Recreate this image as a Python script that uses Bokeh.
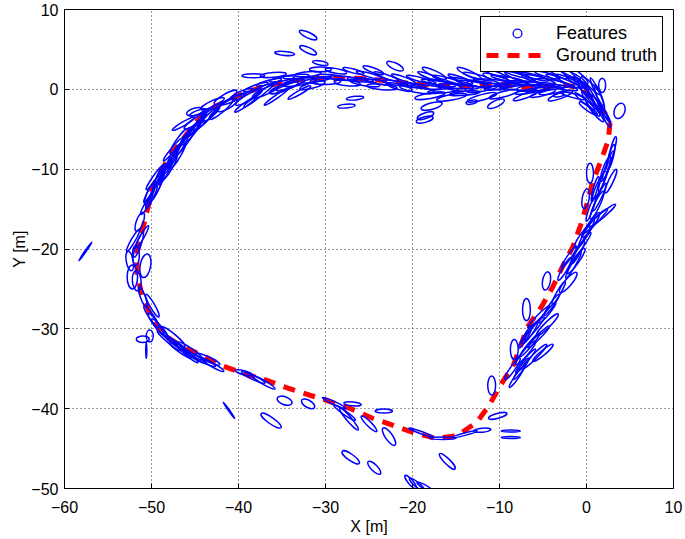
import numpy as np
from bokeh.plotting import figure
from bokeh.models import Legend, LegendItem, Range1d, ColumnDataSource, FixedTicker
from bokeh.embed import file_html
from bokeh.resources import INLINE

# ---- axes / ticks ----
x_ticks = [-60, -50, -40, -30, -20, -10, 0, 10]
x_tick_labels = ["\u221260", "\u221250", "\u221240", "\u221230", "\u221220", "\u221210", "0", "10"]
y_ticks = [-50, -40, -30, -20, -10, 0, 10]
y_tick_labels = ["\u221250", "\u221240", "\u221230", "\u221220", "\u221210", "0", "10"]

# ---- ground truth trajectory ----
gt_x = [2.7, 2.5, 1.6, 0.65, 0.07, -0.7, -1.6, -2.8, -3.9, -5.1, -6.8, -8.35, -9.9, -11.2, -12.6,
        -14.9, -17.4, -19.85, -22.2, -24.6, -27.1, -29.8, -32.1, -34.4, -36.9, -39.4, -41.7, -44.0,
        -46.7, -48.8, -50.1, -51.1, -51.65, -51.65, -51.1, -50.5, -49.8, -48.8, -47.5, -46.3, -44.8,
        -42.8, -40.3, -37.3, -34.3, -31.3, -26.3, -22.2, -19.2, -14.6, -9.6, -6.1, -2.6, -0.6, 1.0,
        2.2, 2.7]
gt_y = [-4.2, -6.4, -9.1, -11.8, -14.3, -17.1, -19.8, -22.3, -24.8, -27.1, -29.8, -34.4, -37.1,
        -39.6, -41.7, -43.4, -43.7, -43.0, -42.1, -41.2, -40.0, -39.0, -38.2, -37.4, -36.4, -35.6,
        -34.7, -33.4, -32.1, -30.6, -28.3, -25.8, -23.1, -20.4, -17.9, -15.2, -12.1, -10.0, -7.8,
        -6.1, -4.0, -2.2, -0.9, 0.3, 1.0, 1.4, 1.4, 1.0, 0.6, 0.3, 0.6, 0.1, 0.6, 0.1, -1.4, -3.1, -4.2]

# ---- features (uncertainty ellipses): centre, major/minor size, orientation (deg) ----
feat_x = [
    # top band, left part
    -40.5, -39.5, -39.2, -38.3, -38.0, -37.6, -36.5, -35.6, -35.0, -34.0, -33.4, -33.0, -32.0, -31.0, -30.6, -29.5, -41.3, -45.0, -43.3,
    # top band, middle
    -28.8, -28.0, -26.8, -26.0, -25.0, -24.0, -23.0, -22.0, -21.0, -20.0,
    # isolated, top
    -32.0, -32.0, -34.7, -30.6, -22.0, -26.6, -27.6, -17.8, -18.5, -18.6, -10.4, -13.2, -3.2, 1.8, 3.8,
    # top band, right part
    -19.0, -18.5, -18.0, -17.0, -16.5, -16.0, -15.0, -14.5, -14.0, -13.0, -12.5, -12.0, -11.0, -10.5, -10.0,
    -9.0, -8.5, -8.0, -7.0, -6.5, -6.0, -5.0, -4.5, -4.0, -3.0, -2.5, -2.0, -1.0, -1.5,
    # top-right corner
    0.0, 0.8, 1.5, 0.5, 1.2, 2.0, -0.2,
    # right side
    3.0, 2.5, 2.8, 2.0, 1.5, 1.0, 1.8, 1.0, 0.5, 0.0, -0.5, -1.0, -1.5, -2.0, 0.4, -0.1, -2.1, -4.6, -3.2, -4.0,
    -6.9, -5.5, -4.5, -6.0, -5.5, -6.5, -6.0, -7.0, -7.5, -8.0, -8.3, -5.0, -7.0,
    # bottom right
    -10.9, -10.2, -12.0, -8.7, -8.7, -16.0, -14.0, -16.5, -19.0,
    # bottom middle
    -26.9, -27.3, -27.8, -25.0, -23.3, -22.7, -29.0, -27.1, -24.4, -20.2, -19.5, -18.6,
    # bottom left-centre
    -41.1, -36.25, -34.7, -32.0, -38.3, -39.4, -37.1,
    # lower-left band
    -49.0, -48.0, -47.0, -46.0, -45.0, -44.0, -43.0, -46.7,
    # left vertical part
    -51.35, -51.1, -52.1, -51.8, -50.7, -52.2, -51.7, -49.9, -49.5, -51.0, -50.2, -50.6,
    # left descending band
    -43.5, -44.8, -45.0, -46.0, -46.5, -47.5, -47.6, -48.0, -48.4, -49.6, -49.2, -50.0, -50.0, -50.6, -46.3, -44.7,
    # outlier
    -57.6,
]
feat_y = [
    -1.2, -0.4, -1.9, 1.7, 0.3, -0.7, 0.9, -0.9, 1.3, 0.5, 1.6, -0.4, 1.9, 1.2, 2.5, 1.6, -2.0, -2.8, -3.0,
    2.3, 1.4, 2.3, 1.2, 1.8, 0.9, 1.6, 0.8, 1.3, 0.5,
    6.8, 4.9, 4.5, 3.3, 2.9, -1.1, -2.1, -2.1, -3.3, -3.8, -1.8, -1.6, -0.7, 0.5, -2.7,
    1.2, 0.3, 1.6, 0.8, -0.2, 1.2, 0.4, 1.3, -0.5, 0.7, 1.6, 0.0, 1.0, 2.0, 0.3,
    1.3, 0.6, 1.9, 0.8, -0.2, 1.6, 0.6, 1.8, -0.3, 1.2, 0.2, 2.0, 0.8, -0.8,
    -0.5, -1.2, -2.2, 0.5, -0.3, -2.8, -1.5,
    -7.5, -9.5, -11.5, -11.0, -13.5, -12.5, -15.8, -16.5, -15.0, -18.0, -19.5, -20.5, -22.0, -21.0, -10.5, -13.7, -24.2, -24.0, -25.5, -27.0,
    -27.6, -28.5, -28.0, -30.0, -31.0, -32.0, -33.5, -34.0, -35.0, -36.0, -32.6, -33.0, -31.0,
    -37.1, -40.9, -42.7, -42.8, -43.6, -46.6, -43.2, -43.7, -43.0,
    -39.4, -41.3, -40.5, -41.9, -40.3, -43.5, -39.3, -46.1, -47.4, -49.2, -49.5, -49.8,
    -40.2, -41.5, -39.0, -39.4, -36.1, -35.5, -36.7,
    -30.0, -31.5, -32.0, -33.0, -33.5, -34.0, -34.5, -32.7,
    -16.6, -18.5, -18.9, -20.8, -22.1, -23.5, -24.0, -27.1, -29.4, -31.3, -30.9, -32.7,
    -3.5, -4.5, -5.0, -6.5, -7.0, -7.5, -8.5, -9.5, -10.5, -11.0, -12.0, -12.5, -13.5, -14.5, -4.3, -2.9,
    -20.3,
]
feat_w = [
    3.0, 2.5, 3.0, 2.6, 3.0, 4.5, 3.0, 3.5, 3.0, 3.5, 3.0, 3.0, 3.0, 3.5, 2.5, 3.0, 2.6, 2.0, 3.0,
    2.5, 3.5, 2.5, 3.0, 3.0, 3.0, 3.0, 3.0, 3.0, 3.0,
    2.2, 2.1, 2.3, 1.8, 2.1, 2.0, 2.0, 2.5, 2.0, 2.0, 2.1, 1.3, 1.2, 0.8, 1.2,
    3.5, 3.5, 3.0, 4.0, 3.5, 3.5, 4.0, 3.0, 3.5, 4.0, 3.5, 3.5, 4.0, 3.0, 3.5,
    4.0, 3.5, 3.0, 4.0, 3.5, 3.5, 4.0, 3.0, 3.0, 3.5, 3.0, 3.0, 3.0, 3.0,
    3.5, 4.0, 3.5, 3.0, 3.5, 3.0, 3.0,
    3.0, 3.5, 3.0, 3.5, 3.5, 3.0, 4.0, 4.0, 3.0, 3.5, 3.5, 3.0, 3.5, 3.0, 0.8, 0.8, 3.0, 0.9, 3.0, 3.0,
    0.9, 3.5, 3.0, 3.5, 3.5, 3.5, 4.0, 3.5, 3.0, 3.0, 0.9, 3.0, 3.0,
    0.9, 2.2, 2.0, 2.2, 2.2, 2.5, 3.0, 3.0, 3.0,
    2.0, 3.3, 3.0, 2.5, 2.0, 2.4, 3.0, 2.4, 2.0, 2.0, 2.2, 2.0,
    2.3, 2.8, 1.8, 1.7, 3.0, 2.0, 3.0,
    3.0, 3.5, 3.5, 3.5, 3.0, 3.0, 3.0, 3.0,
    0.8, 3.0, 3.0, 0.8, 1.2, 1.2, 1.0, 3.0, 3.0, 1.5, 0.8, 0.12,
    3.5, 3.5, 3.0, 3.5, 3.0, 3.5, 3.5, 3.5, 3.0, 3.5, 3.0, 3.5, 3.0, 2.5, 3.0, 2.0,
    2.6,
]
feat_h = [
    0.5, 0.5, 0.5, 0.5, 0.5, 0.5, 0.5, 0.4, 0.5, 0.5, 0.5, 0.5, 0.6, 0.5, 0.6, 0.5, 0.9, 0.9, 1.0,
    0.6, 0.5, 0.5, 0.5, 0.5, 0.5, 0.5, 0.5, 0.5, 0.5,
    0.7, 0.7, 0.5, 0.5, 0.8, 0.45, 0.45, 0.8, 0.7, 0.7, 0.8, 0.5, 0.45, 1.8, 2.0,
    0.5, 0.5, 0.5, 0.5, 0.5, 0.5, 0.5, 0.5, 0.5, 0.5, 0.5, 0.5, 0.5, 0.5, 0.5,
    0.5, 0.5, 0.5, 0.5, 0.5, 0.5, 0.5, 0.5, 0.5, 0.5, 0.5, 0.5, 0.5, 0.5,
    0.5, 0.5, 0.4, 0.5, 0.5, 0.4, 0.5,
    0.5, 0.5, 0.6, 0.5, 0.5, 0.5, 0.6, 0.6, 0.5, 0.5, 0.5, 0.5, 0.5, 0.5, 2.5, 2.5, 0.9, 2.3, 0.5, 0.5,
    2.8, 0.5, 0.5, 0.5, 0.5, 0.5, 0.6, 0.5, 0.5, 0.5, 2.5, 0.6, 0.5,
    2.4, 0.6, 0.5, 0.25, 0.25, 0.7, 0.3, 0.3, 0.3,
    0.5, 0.6, 0.5, 0.6, 0.5, 0.9, 0.4, 0.8, 0.8, 0.6, 0.6, 0.5,
    0.15, 0.8, 1.0, 0.9, 0.5, 0.5, 0.5,
    0.6, 0.5, 0.5, 0.5, 0.5, 0.5, 0.5, 0.5,
    2.5, 0.5, 0.5, 2.5, 3.0, 3.0, 2.5, 0.6, 0.6, 0.8, 1.5, 2.0,
    0.5, 0.5, 0.5, 0.5, 0.5, 0.5, 0.5, 0.5, 0.5, 0.5, 0.5, 0.5, 0.5, 0.5, 0.5, 0.5,
    0.15,
]
feat_angle = [
    25, 20, 35, 0, 20, 38, 15, 35, 10, 20, 5, 30, 5, 10, 0, -5, 30, 15, 40,
    -10, -5, -15, -5, -15, -10, -20, -10, -20, -5,
    -25, -25, -5, -10, -25, 5, 5, 15, 20, 15, 25, 10, 10, 0, -20,
    -15, -5, -20, -10, 5, -15, -5, -20, 5, -10, -15, 10, -5, -20, 10,
    -10, 5, -15, -5, 10, -15, -5, -15, 10, -20, -10, -25, -30, -15,
    -55, -60, -55, -45, -65, -60, -40,
    75, 70, 65, 70, 65, 75, 40, 45, 70, 60, 55, 60, 60, 55, 0, -10, 50, -10, 60, 55,
    0, 45, 50, 50, 45, 50, 45, 50, 55, 55, 0, 40, 60,
    0, 15, 5, 0, 0, -45, 15, 0, -20,
    -5, -50, -35, -45, 0, -55, -25, -35, -45, -50, -40, -30,
    -55, -35, -20, -30, -25, -15, -30,
    -50, -40, -35, -40, -30, -25, -30, -35,
    -20, 60, 60, 0, -10, 0, 5, -60, -55, 0, 0, 0,
    45, 50, 40, 55, 60, 50, 60, 55, 60, 55, 65, 60, 65, 60, 30, 20,
    55,
]

# ---- further features in the densest stretches of the track ----
dense_x = [
    # top band, right part
    -19.5, -18.0, -17.5, -16.0, -15.5, -14.0, -13.5, -12.0, -11.5, -10.0, -9.5, -8.0, -7.5, -6.0, -5.5, -4.0, -3.5, -3.0, -2.0, -1.0, -7.0, -5.0,
    # top-right corner
    0.5, 1.5, 2.2, -0.5, 1.0, 0.2,
    # top band, left part
    -38.8, -36.8, -34.8, -33.0, -31.5, -30.0, -27.5, -25.5, -23.5, -21.5, -36.0, -24.5,
    # left descending band
    -41.5, -42.0, -43.0, -44.0, -45.5, -46.8, -47.0, -48.0, -49.0, -49.5, -50.3, -45.0,
    # right side
    2.8, 2.2, 1.5, 1.2, 0.5, -0.5, -1.2, -2.5, -4.5, -6.5, -7.0, -8.5,
    # left vertical part
    -51.5, -52.5, -51.0, -50.0,
    # lower-left band
    -47.5, -45.5, -43.5,
]
dense_y = [
    0.0, -0.8, 2.0, 0.5, -1.0, 0.9, 2.0, -1.0, 0.5, 1.2, -0.6, 0.3, 1.4, 0.2, 1.2, 0.8, 2.2, -0.8, 1.0, 1.8, -0.8, -0.5,
    -1.8, -1.0, -3.5, 0.3, -2.8, -2.4,
    -1.0, -0.2, 0.2, 0.9, 0.5, 1.0, 0.8, 0.8, 0.3, 0.3, 1.8, 2.4,
    -1.0, -2.5, -1.8, -3.8, -5.5, -6.5, -8.2, -9.8, -10.8, -12.5, -13.2, -4.0,
    -8.5, -10.0, -12.0, -14.5, -17.0, -18.5, -21.5, -22.5, -29.5, -30.5, -33.0, -35.0,
    -19.5, -21.5, -26.0, -28.5,
    -31.0, -32.8, -33.8,
]
dense_w = [
    4.0, 3.5, 3.0, 4.5, 3.5, 4.5, 3.0, 3.5, 4.5, 4.0, 3.5, 4.5, 4.0, 4.0, 4.0, 4.0, 3.0, 3.0, 3.5, 3.0, 3.0, 3.0,
    3.5, 3.0, 2.5, 3.0, 3.0, 2.5,
    3.5, 3.5, 3.5, 4.0, 3.0, 3.5, 3.0, 3.5, 3.5, 3.0, 3.0, 2.5,
    3.0, 3.5, 3.0, 3.5, 3.5, 3.5, 3.5, 3.5, 3.0, 3.0, 2.5, 3.0,
    3.0, 3.0, 3.5, 3.5, 3.5, 3.0, 3.5, 3.0, 3.5, 3.0, 3.5, 3.0,
    3.0, 0.8, 2.5, 3.0,
    3.5, 3.5, 3.0,
]
dense_h = [
    0.8, 0.7, 0.7, 0.8, 0.7, 0.8, 0.7, 0.7, 0.8, 0.8, 0.7, 0.8, 0.8, 0.8, 0.8, 0.8, 0.7, 0.7, 0.8, 0.7, 0.6, 0.6,
    0.7, 0.6, 0.5, 0.7, 0.6, 0.6,
    0.8, 0.8, 0.8, 0.8, 0.7, 0.8, 0.7, 0.7, 0.7, 0.7, 0.6, 0.6,
    0.8, 0.8, 0.7, 0.8, 0.8, 0.8, 0.8, 0.8, 0.7, 0.7, 0.6, 0.7,
    0.6, 0.7, 0.7, 0.7, 0.7, 0.7, 0.7, 0.6, 0.7, 0.6, 0.7, 0.6,
    0.6, 2.5, 0.6, 0.6,
    0.7, 0.7, 0.6,
]
dense_angle = [
    -10, 10, -25, -15, 10, -10, -25, 15, -10, -20, 15, -5, -20, 5, -15, -10, -30, 20, -25, -40, 20, 15,
    -55, -70, -65, -50, -50, -35,
    30, 25, 20, 10, 15, 0, -5, -10, -5, -15, 5, -20,
    30, 40, 25, 45, 50, 55, 60, 60, 65, 65, 70, 35,
    75, 70, 65, 65, 55, 55, 55, 60, 45, 55, 50, 55,
    70, 10, -70, -55,
    -40, -35, -25,
]

FONT = "Liberation Sans"

p = figure(width=685, height=539, x_range=Range1d(-60, 10), y_range=Range1d(-50, 10),
           output_backend="svg", toolbar_location=None,
           min_border_left=64, min_border_right=12, min_border_top=9, min_border_bottom=51)
p.background_fill_color = "white"
p.border_fill_color = "white"
p.outline_line_color = "black"
p.outline_line_width = 1

for ax, ticks, labels in ((p.xaxis[0], x_ticks, x_tick_labels), (p.yaxis[0], y_ticks, y_tick_labels)):
    ax.ticker = FixedTicker(ticks=ticks)
    ax.major_label_overrides = {t: l for t, l in zip(ticks, labels)}
    ax.major_label_text_font = FONT
    ax.major_label_text_font_size = "16px"
    ax.major_label_text_color = "black"
    ax.axis_label_text_font = FONT
    ax.axis_label_text_font_size = "16px"
    ax.axis_label_text_font_style = "normal"
    ax.axis_label_text_color = "black"
    ax.axis_line_color = "black"
    ax.major_tick_line_color = "black"
    ax.major_tick_in = 5
    ax.major_tick_out = 0
    ax.minor_tick_line_color = None

p.xaxis.axis_label = "X [m]"
p.yaxis.axis_label = "Y [m]"
p.xaxis.major_label_standoff = 12
p.xaxis.axis_label_standoff = 2
p.yaxis.major_label_standoff = 6
p.yaxis.axis_label_standoff = 0

p.xgrid.ticker = FixedTicker(ticks=x_ticks)
p.ygrid.ticker = FixedTicker(ticks=y_ticks)
p.grid.grid_line_color = "black"
p.grid.grid_line_dash = "1 3"
p.grid.grid_line_width = 1
p.grid.grid_line_alpha = 0.8

gt = p.line(gt_x, gt_y, line_color="#ff0000", line_width=5, line_dash="12 9", line_cap="butt")

src = ColumnDataSource(dict(x=feat_x + dense_x, y=feat_y + dense_y, w=feat_w + dense_w,
                            h=feat_h + dense_h, a=feat_angle + dense_angle))
p.ellipse(x="x", y="y", width="w", height="h", angle="a", angle_units="deg", source=src,
          fill_color=None, line_color="#0000ff", line_width=1.5)

# legend-only marker (no visible data point)
feat_key = p.scatter(x=[np.nan], y=[np.nan], marker="circle", size=10, fill_color=None,
                     line_color="#0000ff", line_width=1.3)

legend = Legend(items=[LegendItem(label="Features", renderers=[feat_key]),
                       LegendItem(label="Ground truth", renderers=[gt])],
                location=(416, 416), padding=5, spacing=0, margin=0,
                glyph_width=62, glyph_height=22, label_height=22, label_standoff=8,
                label_text_font=FONT, label_text_font_size="18px", label_text_color="black",
                border_line_color="black", border_line_width=1, border_line_alpha=1,
                background_fill_color="white", background_fill_alpha=1)
p.add_layout(legend)

open("out.html", "w").write(file_html(p, INLINE))
